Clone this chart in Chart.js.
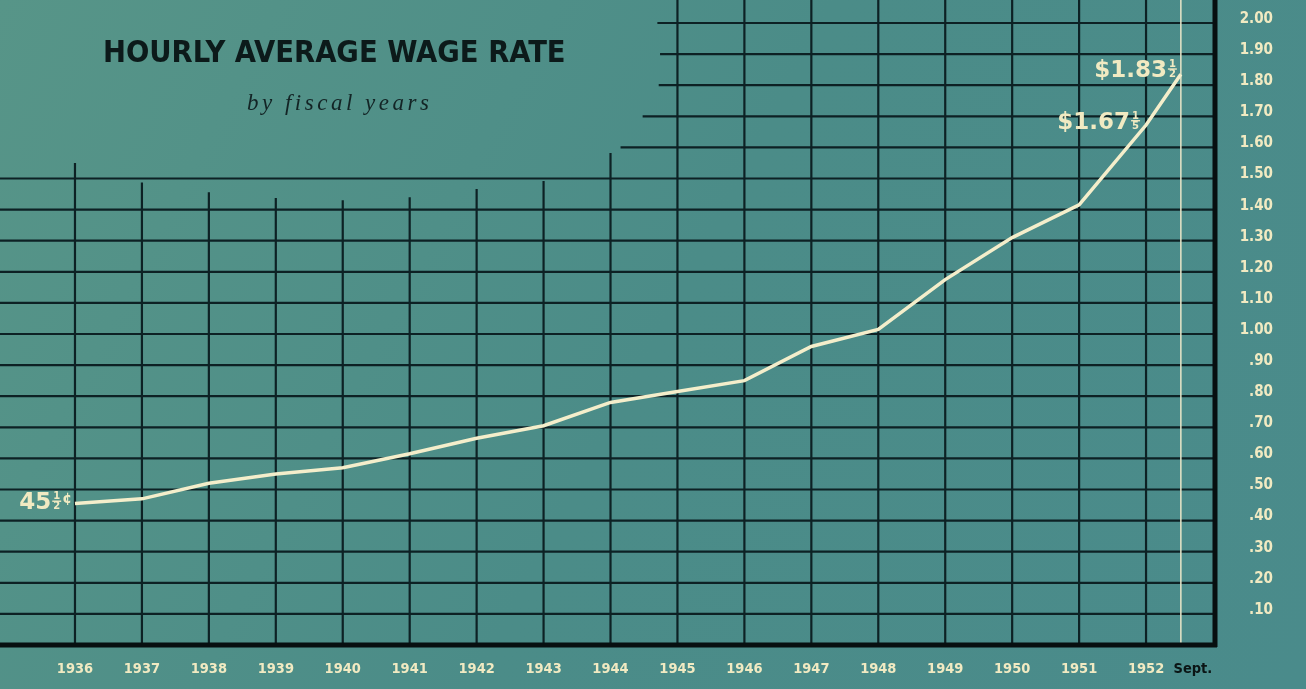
<!DOCTYPE html>
<html>
<head>
<meta charset="utf-8">
<script src="https://cdn.jsdelivr.net/npm/chart.js@4/dist/chart.umd.min.js"></script>
<style>
html, body { margin: 0; background: #4c8e8a; }
canvas { display: block; }
</style>
</head>
<body>
<canvas id="graficaSalario" width="1306" height="689"></canvas>
<script>
// fiscal years (last point = September 1952)
const years = [1936, 1937, 1938, 1939, 1940, 1941, 1942, 1943, 1944, 1945, 1946, 1947, 1948, 1949, 1950, 1951, 1952, 1952.52];
const wages = [0.455, 0.47, 0.52, 0.55, 0.57, 0.615, 0.665, 0.705, 0.78, 0.815, 0.85, 0.96, 1.015, 1.175, 1.31, 1.415, 1.672, 1.835];

const yearTicks = [1936, 1937, 1938, 1939, 1940, 1941, 1942, 1943, 1944, 1945, 1946, 1947, 1948, 1949, 1950, 1951, 1952, 1952.7];
const yearLabels = ["1936", "1937", "1938", "1939", "1940", "1941", "1942", "1943", "1944", "1945", "1946", "1947", "1948", "1949", "1950", "1951", "1952", "Sept."];

const wageTicks = [0.1, 0.2, 0.3, 0.4, 0.5, 0.6, 0.7, 0.8, 0.9, 1.0, 1.1, 1.2, 1.3, 1.4, 1.5, 1.6, 1.7, 1.8, 1.9, 2.0];
const wageLabels = [".10", ".20", ".30", ".40", ".50", ".60", ".70", ".80", ".90", "1.00", "1.10", "1.20", "1.30", "1.40", "1.50", "1.60", "1.70", "1.80", "1.90", "2.00"];

// how far the drawn grid reaches in the top left corner
const gridTopByYear = [1.55, 1.487, 1.456, 1.437, 1.43, 1.44, 1.466, 1.492, 1.582];
const gridStartByWage = {1.6: 1944.15, 1.7: 1944.48, 1.8: 1944.72, 1.9: 1944.74, 2.0: 1944.70};

const crema = "#f1eac2";
const tinta = "#0d2124";
const condensada = '"DejaVu Sans Condensed", "Liberation Sans Narrow", "Roboto Condensed", "DejaVu Sans", sans-serif';

function dibujarMonto(ctx, entero, num, den, sufijo, derecha, base) {
  ctx.save();
  ctx.fillStyle = crema;
  ctx.font = 'bold 23px "DejaVu Sans", sans-serif';
  const wMain = ctx.measureText(entero).width;
  ctx.font = 'bold 10px "DejaVu Sans", sans-serif';
  const wFrac = Math.max(ctx.measureText(num).width, ctx.measureText(den).width) + 2;
  ctx.font = 'bold 14px "DejaVu Sans", sans-serif';
  const wSuf = sufijo ? ctx.measureText(sufijo).width + 1 : 0;
  let x = derecha - wSuf - wFrac - wMain - 1;
  ctx.textBaseline = "alphabetic";
  ctx.textAlign = "left";
  ctx.font = 'bold 23px "DejaVu Sans", sans-serif';
  ctx.fillText(entero, x, base);
  x += wMain + 1;
  ctx.font = 'bold 10px "DejaVu Sans", sans-serif';
  ctx.textAlign = "center";
  ctx.fillText(num, x + wFrac / 2, base - 10);
  ctx.fillText(den, x + wFrac / 2, base);
  ctx.fillRect(x, base - 9, wFrac, 1.4);
  x += wFrac;
  if (sufijo) {
    ctx.textAlign = "left";
    ctx.font = 'bold 14px "DejaVu Sans", sans-serif';
    ctx.fillText(sufijo, x + 1, base - 6);
  }
  ctx.restore();
}

const fondoYReja = {
  id: "fondoYReja",
  beforeDraw(chart) {
    const ctx = chart.ctx;
    const g = ctx.createLinearGradient(0, 0, chart.width, chart.height);
    g.addColorStop(0, "#579588");
    g.addColorStop(0.5, "#4b8c88");
    g.addColorStop(1, "#4a8b8b");
    ctx.save();
    ctx.fillStyle = g;
    ctx.fillRect(0, 0, chart.width, chart.height);
    ctx.restore();
  },
  beforeDatasetsDraw(chart) {
    const ctx = chart.ctx;
    const xs = chart.scales.x, ys = chart.scales.y;
    const area = chart.chartArea;
    ctx.save();
    ctx.strokeStyle = tinta;
    ctx.lineWidth = 2.2;
    // horizontal rules
    wageTicks.forEach(v => {
      const y = ys.getPixelForValue(v);
      const desde = gridStartByWage[v] ? xs.getPixelForValue(gridStartByWage[v]) : area.left;
      ctx.beginPath();
      ctx.moveTo(desde, y);
      ctx.lineTo(area.right, y);
      ctx.stroke();
    });
    // vertical rules at each year
    years.slice(0, 17).forEach((yr, i) => {
      const x = xs.getPixelForValue(yr);
      const top = i < gridTopByYear.length ? ys.getPixelForValue(gridTopByYear[i]) : area.top;
      ctx.beginPath();
      ctx.moveTo(x, top);
      ctx.lineTo(x, area.bottom);
      ctx.stroke();
    });
    // September marker
    const xs9 = xs.getPixelForValue(years[years.length - 1]);
    ctx.strokeStyle = "#e9e6c8";
    ctx.lineWidth = 1.5;
    ctx.beginPath();
    ctx.moveTo(xs9, area.top);
    ctx.lineTo(xs9, area.bottom);
    ctx.stroke();
    // heavy frame
    ctx.strokeStyle = "#070f10";
    ctx.lineWidth = 5;
    ctx.beginPath();
    ctx.moveTo(area.left, area.bottom);
    ctx.lineTo(area.right + 2, area.bottom);
    ctx.moveTo(area.right, area.top);
    ctx.lineTo(area.right, area.bottom + 2);
    ctx.stroke();
    ctx.restore();
  },
  afterDatasetsDraw(chart) {
    const ctx = chart.ctx;
    const xs = chart.scales.x, ys = chart.scales.y;
    const n = years.length;
    dibujarMonto(ctx, "45", "1", "2", "¢", xs.getPixelForValue(years[0]) - 3, ys.getPixelForValue(wages[0]) + 6);
    dibujarMonto(ctx, "$1.67", "1", "5", "", xs.getPixelForValue(years[n - 2]) - 6, ys.getPixelForValue(wages[n - 2]) + 4);
    dibujarMonto(ctx, "$1.83", "1", "2", "", xs.getPixelForValue(years[n - 1]) - 4, ys.getPixelForValue(wages[n - 1]) + 3);
  },
  afterDraw(chart) {
    const ctx = chart.ctx;
    ctx.save();
    ctx.fillStyle = "#0c1a1a";
    ctx.textBaseline = "alphabetic";
    ctx.font = "bold 30.5px " + condensada;
    ctx.fillText("HOURLY AVERAGE WAGE RATE", 103, 62);
    ctx.font = 'italic 23px "Liberation Serif", "DejaVu Serif", serif';
    ctx.letterSpacing = "3.5px";
    ctx.fillStyle = "#132425";
    ctx.fillText("by fiscal years", 247, 110);
    ctx.restore();
  }
};

new Chart(document.getElementById("graficaSalario"), {
  type: "line",
  data: {
    datasets: [{
      label: "Hourly average wage rate",
      data: years.map((yr, i) => ({ x: yr, y: wages[i] })),
      borderColor: "#f4eecb",
      borderWidth: 3.5,
      pointRadius: 0,
      tension: 0
    }]
  },
  options: {
    responsive: false,
    animation: false,
    devicePixelRatio: 1,
    layout: { padding: { top: 0, left: 0, bottom: 0, right: 33 } },
    plugins: { legend: { display: false }, tooltip: { enabled: false } },
    scales: {
      x: {
        type: "linear",
        min: 1934.88,
        max: 1953.03,
        grid: { display: false, drawTicks: false },
        border: { display: false },
        afterBuildTicks: s => { s.ticks = yearTicks.map(v => ({ value: v })); },
        afterFit: s => { s.height = 44; s.paddingLeft = 0; s.paddingRight = 0; },
        ticks: {
          autoSkip: false,
          maxRotation: 0,
          padding: 16,
          font: { family: condensada, size: 14.5, weight: "bold" },
          color: c => (c.index === yearTicks.length - 1 ? "#0b1515" : crema),
          callback: (v, i) => yearLabels[i]
        }
      },
      y: {
        position: "right",
        min: 0,
        max: 2.074,
        grid: { display: false, drawTicks: false },
        border: { display: false },
        afterBuildTicks: s => { s.ticks = wageTicks.map(v => ({ value: v })); },
        afterFit: s => { s.width = 58; s.paddingTop = 0; s.paddingBottom = 0; },
        ticks: {
          autoSkip: false,
          padding: 0,
          crossAlign: "far",
          labelOffset: -4,
          font: { family: condensada, size: 15, weight: "bold" },
          color: crema,
          callback: (v, i) => wageLabels[i]
        }
      }
    }
  },
  plugins: [fondoYReja]
});
</script>
</body>
</html>
